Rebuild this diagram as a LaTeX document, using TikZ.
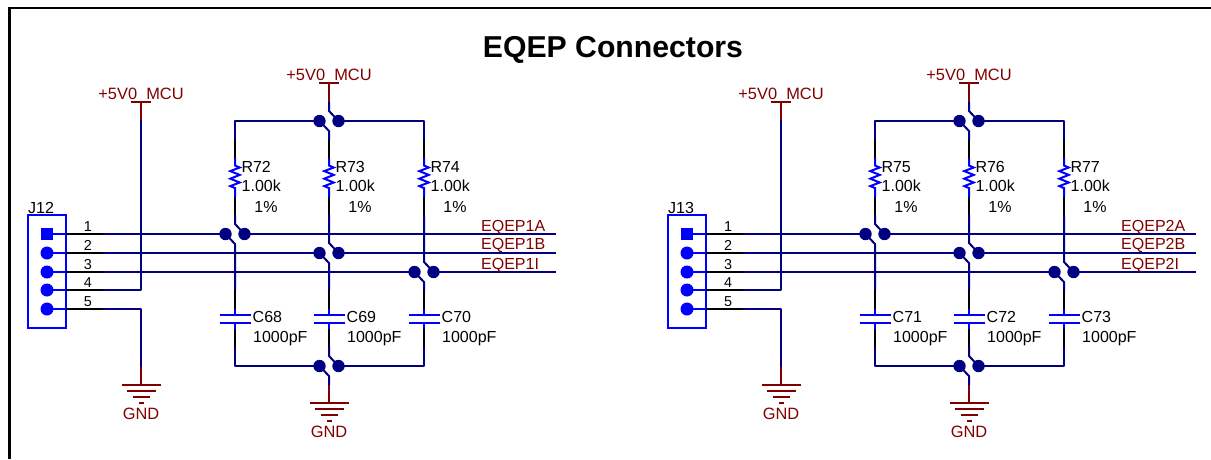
\documentclass[tikz,border=0pt]{standalone}
\usepackage{fontspec}
\setmainfont{Liberation Sans}
\definecolor{wirenavy}{RGB}{0,0,128}
\definecolor{partblue}{RGB}{0,0,255}
\definecolor{powerred}{RGB}{128,0,0}
\tikzset{
  wire/.style={draw=wirenavy,line width=2pt,line join=round},
  pinblack/.style={draw=black,line width=2pt},
  partline/.style={draw=partblue,line width=2pt,line join=miter},
  plate/.style={draw=partblue,line width=2pt},
  pwr/.style={draw=powerred,line width=2pt},
  jdot/.style={circle,fill=wirenavy,minimum size=12.4pt,inner sep=0pt},
  pindot/.style={circle,fill=partblue,minimum size=13pt,inner sep=0pt},
  pinsq/.style={rectangle,fill=partblue,minimum size=12.8pt,inner sep=0pt},
  txt/.style={inner sep=0pt,anchor=base west,font=\fontsize{16}{18}\selectfont,text=black},
  txtc/.style={inner sep=0pt,anchor=base,font=\fontsize{16}{18}\selectfont,text=black},
  pinno/.style={inner sep=0pt,anchor=base,font=\fontsize{14.4}{16}\selectfont,text=black},
  nettxt/.style={inner sep=0pt,anchor=base west,font=\fontsize{16}{18}\selectfont,text=powerred},
  pwrtxt/.style={inner sep=0pt,anchor=base,font=\fontsize{16.4}{18}\selectfont,text=powerred},
}
% power flag: #1 name, #2 x, #3 bar y, #4 stub end y, #5 text baseline y
\newcommand{\powerflag}[5]{%
  \coordinate (#1-bar) at (#2,#3);
  \coordinate (#1-end) at (#2,#4);
  \draw[pwr] (#1-end) -- (#1-bar);
  \draw[pwr] ([xshift=-10pt]#1-bar) -- ([xshift=10pt]#1-bar);
  \node[pwrtxt] (#1-t) at (#2,#5) {+5V0\_MCU};
}
% ground: #1 name, #2 x, #3 stub top y, #4 bar y, #5 baseline
\newcommand{\groundflag}[5]{%
  \coordinate (#1-top) at (#2,#3);
  \coordinate (#1-bar) at (#2,#4);
  \draw[pwr] (#1-top) -- (#1-bar);
  \draw[pwr] ([xshift=-19.5pt]#1-bar) -- ([xshift=19.5pt]#1-bar);
  \draw[pwr] ([xshift=-14.5pt,yshift=-6pt]#1-bar) -- ([xshift=14.5pt,yshift=-6pt]#1-bar);
  \draw[pwr] ([xshift=-8.5pt,yshift=-12pt]#1-bar) -- ([xshift=8.5pt,yshift=-12pt]#1-bar);
  \draw[pwr] ([xshift=-2.5pt,yshift=-18pt]#1-bar) -- ([xshift=2.5pt,yshift=-18pt]#1-bar);
  \node[pwrtxt] (#1-t) at (#2,#5) {GND};
}
% junction pair: #1 name, #2 x, #3 y
\newcommand{\jpair}[3]{%
  \node[jdot] (#1-l) at (#2-9.5,#3) {};
  \node[jdot] (#1-r) at (#2+9.5,#3) {};
  \coordinate (#1-up) at (#2,#3-10);
  \coordinate (#1-dn) at (#2,#3+10);
}
% column: #1 name, #2 x, #3 row junction, #4 R, #5 C
\newcommand{\eqepcol}[5]{%
  \coordinate (#1-a) at (#2,140);
  \coordinate (#1-b) at (#2,158);
  \coordinate (#1-c) at (#2,197);
  \coordinate (#1-d) at (#2,215);
  \coordinate (#1-e) at (#2,290);
  \coordinate (#1-f) at (#2,309);
  \coordinate (#1-g) at (#2,315);
  \coordinate (#1-h) at (#2,323);
  \coordinate (#1-i) at (#2,329);
  \coordinate (#1-k) at (#2,347);
  \draw[wire] (#1-d) -- (#3-up) -- (#3-r.center);
  \draw[wire] (#3-l.center) -- (#3-dn) -- (#1-e);
  \draw[pinblack] (#1-a) -- (#1-b);
  \draw[partline] (#1-b) -- ++(0,7.5) -- ++(4.7,2) -- ++(-9.4,3.6) -- ++(9.4,3.8) -- ++(-9.4,3.8) -- ++(9.4,3.8) -- ++(-9.4,3.6) -- ++(4.7,2) -- (#1-c);
  \draw[pinblack] (#1-c) -- (#1-d);
  \draw[pinblack] (#1-e) -- (#1-f);
  \draw[partline] (#1-f) -- (#1-g);
  \draw[plate] ([xshift=-15.5pt]#1-g) -- ([xshift=15.5pt]#1-g);
  \draw[plate] ([xshift=-15.5pt]#1-h) -- ([xshift=15.5pt]#1-h);
  \draw[partline] (#1-h) -- (#1-i);
  \draw[pinblack] (#1-i) -- (#1-k);
  \node[txt] (#1-rr) at (#2+6.3,172.4) {#4};
  \node[txt] (#1-rv) at (#2+6.5,191.7) {1.00k};
  \node[txtc] (#1-rp) at (#2+31,212.4) {1\%};
  \node[txt] (#1-cr) at (#2+17.5,322.7) {#5};
  \node[txt] (#1-cv) at (#2+18,342.2) {1000pF};
}
% one connector sheet
\newcommand{\eqepgroup}[8]{%
  % connector
  \node[draw=partblue,line width=2pt,minimum width=38pt,minimum height=113pt,inner sep=0pt,outer sep=0pt] (box) at (47,271.5) {};
  \node[txt] (jref) at (28,213) {#1};
  \node[pinsq] (p1) at (47,234) {};
  \node[pindot] (p2) at (47,253) {};
  \node[pindot] (p3) at (47,272) {};
  \node[pindot] (p4) at (47,290) {};
  \node[pindot] (p5) at (47,309) {};
  \foreach \n/\yy in {1/234,2/253,3/272,4/290,5/309}{
    \coordinate (e\n) at (66,\yy);
    \coordinate (s\n) at (103,\yy);
    \draw[partline] (p\n.center) -- (e\n);
    \draw[pinblack] (e\n) -- (s\n);
    \node[pinno] (no\n) at (88,\yy-2.9) {\n};
  }
  % power and ground on the connector
  \powerflag{pa}{141}{102}{120}{99.6}
  \groundflag{ga}{141}{367}{385}{419}
  \coordinate (c4) at (141,290);
  \coordinate (c5) at (141,309);
  \draw[wire] (pa-end) -- (c4) -- (s4);
  \draw[wire] (s5) -- (c5) -- (ga-top);
  % junctions
  \jpair{jt}{329}{121}
  \jpair{ja}{235}{234}
  \jpair{jb}{329}{253}
  \jpair{jc}{424}{272}
  \jpair{jd}{329}{366}
  % signal rails
  \coordinate (ea) at (556,234);
  \coordinate (eb) at (556,253);
  \coordinate (ec) at (556,272);
  \draw[wire] (s1) -- (ja-l.center);
  \draw[wire] (ja-r.center) -- (ea);
  \draw[wire] (s2) -- (jb-l.center);
  \draw[wire] (jb-r.center) -- (eb);
  \draw[wire] (s3) -- (jc-l.center);
  \draw[wire] (jc-r.center) -- (ec);
  \node[nettxt] (na) at (481,231.4) {#8A};
  \node[nettxt] (nb) at (481,249) {#8B};
  \node[nettxt] (nc) at (481,269) {#8I};
  % columns
  \eqepcol{ca}{235}{ja}{#2}{#5}
  \eqepcol{cb}{329}{jb}{#3}{#6}
  \eqepcol{cc}{424}{jc}{#4}{#7}
  % top rail
  \powerflag{pb}{329}{83}{102}{80.7}
  \coordinate (tl) at (235,121);
  \coordinate (tr) at (424,121);
  \coordinate (bl) at (235,366);
  \coordinate (br) at (424,366);
  \draw[wire] (ca-a) -- (tl) -- (jt-l.center);
  \draw[wire] (cc-a) -- (tr) -- (jt-r.center);
  \draw[wire] (pb-end) -- (jt-up) -- (jt-r.center);
  \draw[wire] (jt-l.center) -- (jt-dn) -- (cb-a);
  % bottom rail
  \draw[wire] (ca-k) -- (bl) -- (jd-l.center);
  \draw[wire] (cc-k) -- (br) -- (jd-r.center);
  \draw[wire] (cb-k) -- (jd-up) -- (jd-r.center);
  \groundflag{gb}{329}{385}{403}{437.7}
  \draw[wire] (jd-l.center) -- (jd-dn) -- (gb-top);
}
\begin{document}
\begin{tikzpicture}[x=1pt,y=-1pt]
  \useasboundingbox (0,0) rectangle (1211,459);
  \coordinate (frameBL) at (9.5,459);
  \coordinate (frameTL) at (9.5,8);
  \coordinate (frameTR) at (1211,8);
  \draw[black,line width=2.2pt] (frameBL) -- (frameTL) -- (frameTR);
  \node[inner sep=0pt,anchor=base,font=\bfseries\fontsize{30.2}{34}\selectfont] (title) at (613,57.5) {EQEP Connectors};
  \begin{scope}[name prefix=left-]
    \eqepgroup{J12}{R72}{R73}{R74}{C68}{C69}{C70}{EQEP1}
  \end{scope}
  \begin{scope}[name prefix=right-,shift={(640,0)}]
    \eqepgroup{J13}{R75}{R76}{R77}{C71}{C72}{C73}{EQEP2}
  \end{scope}
\end{tikzpicture}
\end{document}
